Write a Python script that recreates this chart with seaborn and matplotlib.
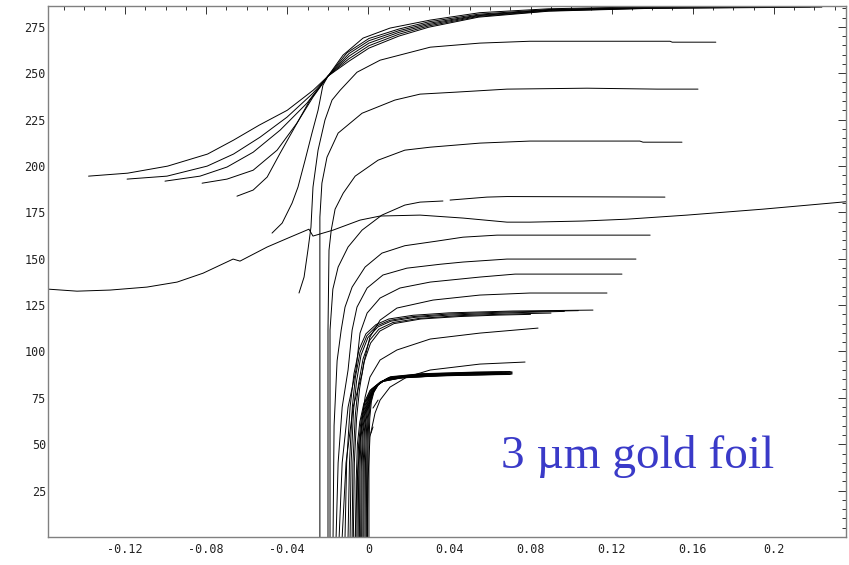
import matplotlib
matplotlib.use("Agg")
import matplotlib.pyplot as plt
import pandas as pd
import seaborn as sns
from matplotlib.ticker import MultipleLocator, FixedLocator, FuncFormatter

# ---- trajectories, (x, y) points in axis units ----
# upper family: start on the left, meet near (-0.02, 248), flatten at ~285
a1 = [(-0.1380, 194.5), (-0.1187, 196.1), (-0.0990, 199.9), (-0.0793, 206.4), (-0.0665, 213.9),
      (-0.0538, 222.0), (-0.0400, 230.0), (-0.0272, 240.8), (-0.0199, 248.4), (-0.0095, 256.5),
      (0.0003, 263.5), (0.0151, 270.0), (0.0299, 274.8), (0.0544, 280.2), (0.0889, 283.4),
      (0.1381, 284.9), (0.2237, 285.6)]
a2 = [(-0.1190, 192.9), (-0.0993, 194.5), (-0.0795, 199.9), (-0.0665, 206.4), (-0.0534, 215.5),
      (-0.0401, 226.3), (-0.0273, 239.2), (-0.0199, 248.4), (-0.0095, 257.8), (0.0003, 264.8),
      (0.0151, 271.0), (0.0299, 275.5), (0.0544, 280.6), (0.0889, 283.6), (0.1381, 285.0),
      (0.2180, 285.7)]
a3 = [(-0.1003, 191.8), (-0.0830, 194.5), (-0.0697, 199.4), (-0.0568, 207.4), (-0.0435, 219.3),
      (-0.0303, 233.8), (-0.0199, 248.4), (-0.0095, 259.2), (0.0003, 266.2), (0.0151, 272.0),
      (0.0299, 276.2), (0.0544, 281.0), (0.0889, 283.9), (0.1381, 285.2), (0.1873, 285.7)]
a4 = [(-0.0820, 190.7), (-0.0697, 192.9), (-0.0568, 197.7), (-0.0450, 208.5), (-0.0352, 223.1),
      (-0.0273, 237.1), (-0.0199, 248.4), (-0.0095, 260.6), (0.0003, 267.5), (0.0151, 272.9),
      (0.0299, 276.9), (0.0544, 281.3), (0.0889, 284.1), (0.1381, 285.4), (0.1600, 285.6)]
a5 = [(-0.0648, 183.7), (-0.0568, 187.0), (-0.0499, 194.0), (-0.0435, 206.9), (-0.0371, 219.3),
      (-0.0288, 235.5), (-0.0199, 248.4), (-0.0105, 261.0), (0.0003, 268.7), (0.0151, 273.8),
      (0.0299, 277.7), (0.0544, 281.8), (0.0889, 284.3), (0.1381, 285.6), (0.2237, 285.9)]
a6 = [(-0.0475, 163.8), (-0.0425, 169.2), (-0.0376, 180.0), (-0.0347, 188.6), (-0.0312, 203.1),
      (-0.0278, 217.7), (-0.0248, 230.0), (-0.0224, 243.5), (-0.0199, 248.4), (-0.0125, 259.7),
      (-0.0026, 268.9), (0.0107, 274.3), (0.0305, 278.6), (0.0550, 282.6), (0.0889, 284.7),
      (0.1381, 285.8), (0.2119, 286.0)]

# plateaus at 267 and 241
b1 = [(-0.0342, 131.5), (-0.0317, 140.1), (-0.0298, 154.6), (-0.0283, 167.0), (-0.0273, 188.6),
      (-0.0248, 208.5), (-0.0214, 224.7), (-0.0179, 235.5), (-0.0139, 240.8), (-0.0056, 250.5),
      (0.0058, 257.0), (0.0305, 264.0), (0.0550, 266.2), (0.0797, 267.2), (0.1488, 267.2),
      (0.1499, 266.7), (0.1714, 266.7)]
b2 = [(-0.0239, 0.0), (-0.0239, 120.0), (-0.0239, 172.4), (-0.0229, 190.7), (-0.0204, 204.7),
      (-0.0149, 217.7), (-0.0031, 228.4), (0.0131, 235.5), (0.0255, 238.7), (0.0437, 239.8),
      (0.0684, 241.4), (0.1079, 241.9), (0.1424, 241.4), (0.1626, 241.4)]

# plateaus at 213 and 183 (the 183 one has a small gap)
c213 = [(-0.0199, 0.0), (-0.0199, 111.5), (-0.0194, 154.6), (-0.0183, 165.4), (-0.0164, 176.7),
        (-0.0124, 185.3), (-0.0065, 194.5), (0.0048, 203.1), (0.0180, 208.5), (0.0305, 210.1),
        (0.0550, 212.3), (0.0797, 213.4), (0.1339, 213.4), (0.1355, 212.8), (0.1547, 212.8)]
d183 = [(-0.0189, 0.0), (-0.0189, 111.5), (-0.0175, 133.6), (-0.0149, 145.5), (-0.0100, 156.3),
        (-0.0031, 165.4), (0.0067, 173.5), (0.0180, 178.9), (0.0255, 180.5), (0.0368, 181.1)]
d183_tail = [(0.0403, 181.6), (0.0585, 183.2), (0.0684, 183.5), (0.1463, 183.2)]

# the long, nearly flat trajectory crossing the whole frame
long_path = [(-0.1580, 133.6), (-0.1437, 132.5), (-0.1273, 133.1), (-0.1092, 134.7), (-0.0943, 137.4),
             (-0.0815, 142.2), (-0.0667, 149.8), (-0.0633, 148.7), (-0.0499, 156.3), (-0.0386, 161.6),
             (-0.0293, 165.9), (-0.0273, 162.2), (-0.0174, 165.4), (-0.0041, 170.8), (0.0058, 173.0),
             (0.0255, 173.5), (0.0467, 171.9), (0.0684, 169.7), (0.0797, 169.7), (0.1059, 170.3),
             (0.1275, 171.3), (0.1572, 173.5), (0.1946, 176.7), (0.2356, 180.7)]

# plateaus at 163, 151, 142, 132
e163 = [(-0.0174, 0.0), (-0.0169, 60.0), (-0.0154, 95.0), (-0.0134, 111.5), (-0.0115, 123.9),
        (-0.0080, 134.7), (-0.0016, 145.5), (0.0067, 153.0), (0.0180, 157.0), (0.0339, 159.5),
        (0.0467, 161.6), (0.0635, 162.7), (0.1390, 162.7)]
e151 = [(-0.0159, 0.0), (-0.0149, 40.0), (-0.0129, 70.0), (-0.0100, 90.0), (-0.0080, 111.5),
        (-0.0056, 123.9), (-0.0006, 134.2), (0.0072, 141.2), (0.0190, 144.9), (0.0354, 147.0),
        (0.0467, 148.2), (0.0684, 149.8), (0.1320, 149.8)]
e142 = [(-0.0144, 0.0), (-0.0129, 40.0), (-0.0100, 70.0), (-0.0061, 90.0), (-0.0041, 109.9),
        (-0.0006, 120.7), (0.0058, 128.8), (0.0156, 134.2), (0.0305, 137.4), (0.0550, 140.1),
        (0.0724, 141.7), (0.1251, 141.7)]
e132 = [(-0.0129, 0.0), (-0.0110, 40.0), (-0.0075, 70.0), (-0.0031, 88.0), (-0.0016, 97.0),
        (0.0008, 107.8), (0.0058, 116.9), (0.0141, 123.4), (0.0319, 127.7), (0.0550, 130.4),
        (0.0797, 131.5), (0.1177, 131.5)]

# bunch near 122
f1 = [(-0.0115, 0.0), (-0.0107, 40.0), (-0.0090, 70.0), (-0.0071, 88.0), (-0.0046, 101.0),
      (-0.0012, 109.5), (0.0038, 114.5), (0.0101, 117.5), (0.0220, 119.5), (0.0397, 120.8),
      (0.0711, 121.8), (0.1108, 122.3)]
f2 = [(-0.0100, 0.0), (-0.0093, 40.0), (-0.0079, 70.0), (-0.0064, 86.0), (-0.0041, 99.5),
      (-0.0007, 108.5), (0.0042, 113.8), (0.0106, 116.8), (0.0220, 118.8), (0.0397, 120.2),
      (0.0692, 121.3), (0.1036, 122.0)]
f3 = [(-0.0090, 0.0), (-0.0085, 40.0), (-0.0073, 68.0), (-0.0058, 84.0), (-0.0036, 98.0),
      (-0.0002, 107.5), (0.0047, 113.2), (0.0111, 116.3), (0.0230, 118.4), (0.0397, 119.6),
      (0.0692, 120.8), (0.0967, 121.6)]
f4 = [(-0.0080, 0.0), (-0.0076, 40.0), (-0.0064, 66.0), (-0.0049, 82.0), (-0.0026, 96.0),
      (0.0006, 106.0), (0.0052, 112.0), (0.0121, 115.6), (0.0249, 117.8), (0.0446, 119.3),
      (0.0692, 120.2), (0.0901, 120.7)]
f5 = [(-0.0074, 0.0), (-0.0069, 40.0), (-0.0058, 64.0), (-0.0043, 80.0), (-0.0022, 94.0),
      (0.0011, 104.5), (0.0057, 111.0), (0.0126, 115.0), (0.0259, 117.5), (0.0446, 118.8),
      (0.0640, 119.6), (0.0800, 120.0)]

# plateaus at 113 and 95
g113 = [(-0.0065, 0.0), (-0.0056, 30.0), (-0.0041, 50.0), (-0.0031, 63.0), (-0.0016, 75.4),
        (0.0008, 86.2), (0.0058, 95.4), (0.0141, 100.8), (0.0305, 106.7), (0.0550, 109.9),
        (0.0837, 112.6)]
g95 = [(-0.0006, 0.0), (-0.0002, 30.0), (0.0008, 53.9), (0.0033, 66.8), (0.0058, 73.8),
       (0.0107, 80.8), (0.0190, 86.2), (0.0305, 90.0), (0.0550, 93.2), (0.0773, 94.3)]

# dense bundle flattening at ~88
h01 = [(-0.0062, 0.0), (-0.0060, 30.0), (-0.0054, 50.0), (-0.0042, 62.0), (-0.0022, 72.0),
       (0.0008, 79.0), (0.0058, 83.5), (0.0150, 85.6), (0.0350, 87.0), (0.0600, 87.6)]
h02 = [(-0.0056, 0.0), (-0.0054, 30.0), (-0.0048, 50.0), (-0.0036, 63.0), (-0.0017, 72.5),
       (0.0014, 79.5), (0.0064, 83.8), (0.0160, 85.8), (0.0350, 86.8), (0.0709, 87.8)]
h03 = [(-0.0050, 0.0), (-0.0048, 32.0), (-0.0042, 52.0), (-0.0030, 64.0), (-0.0011, 73.0),
       (0.0019, 79.8), (0.0069, 84.2), (0.0170, 86.2), (0.0400, 87.6), (0.0650, 88.2)]
h04 = [(-0.0044, 0.0), (-0.0042, 35.0), (-0.0036, 54.0), (-0.0024, 65.0), (-0.0006, 73.5),
       (0.0023, 80.0), (0.0073, 84.0), (0.0180, 86.0), (0.0420, 87.2), (0.0700, 87.6)]
h05 = [(-0.0038, 0.0), (-0.0036, 35.0), (-0.0030, 55.0), (-0.0019, 66.0), (-0.0001, 74.0),
       (0.0028, 80.3), (0.0078, 84.6), (0.0190, 86.5), (0.0450, 87.8), (0.0680, 88.4)]
h06 = [(-0.0033, 0.0), (-0.0031, 38.0), (-0.0025, 57.0), (-0.0014, 67.0), (0.0003, 74.5),
       (0.0031, 80.6), (0.0082, 84.8), (0.0200, 86.6), (0.0460, 87.9), (0.0709, 88.2)]
h07 = [(-0.0027, 0.0), (-0.0025, 40.0), (-0.0019, 58.0), (-0.0009, 68.0), (0.0008, 75.0),
       (0.0035, 81.0), (0.0086, 85.0), (0.0210, 86.9), (0.0470, 88.0), (0.0620, 88.4)]
h08 = [(-0.0022, 0.0), (-0.0020, 40.0), (-0.0014, 60.0), (-0.0004, 69.0), (0.0012, 75.5),
       (0.0039, 81.4), (0.0090, 85.3), (0.0220, 87.0), (0.0480, 88.1), (0.0690, 88.3)]
h09 = [(-0.0016, 0.0), (-0.0014, 42.0), (-0.0008, 61.0), (0.0001, 70.0), (0.0016, 76.5),
       (0.0043, 81.8), (0.0095, 85.6), (0.0230, 87.3), (0.0500, 88.3), (0.0709, 88.6)]
h10 = [(-0.0010, 0.0), (-0.0008, 44.0), (-0.0003, 62.0), (0.0006, 71.0), (0.0020, 77.0),
       (0.0047, 82.2), (0.0100, 85.8), (0.0240, 87.5), (0.0500, 88.5), (0.0660, 88.8)]
h11 = [(-0.0004, 0.0), (-0.0003, 46.0), (0.0002, 63.0), (0.0010, 72.0), (0.0024, 77.6),
       (0.0051, 82.6), (0.0105, 86.1), (0.0250, 87.8), (0.0520, 88.7), (0.0709, 89.0)]
h12 = [(0.0003, 0.0), (0.0003, 48.0), (0.0007, 64.0), (0.0015, 73.0), (0.0028, 78.3),
       (0.0055, 83.0), (0.0110, 86.4), (0.0260, 88.0), (0.0530, 88.9), (0.0700, 89.2)]

# two short stray pieces beside the bundle
stub1 = [(0.0048, 73.8), (0.0023, 69.5)]
stub2 = [(0.0023, 59.3), (0.0013, 56.0)]

curves = [a1, a2, a3, a4, a5, a6, b1, b2, c213, d183, d183_tail, long_path,
          e163, e151, e142, e132, f1, f2, f3, f4, f5, g113, g95,
          h01, h02, h03, h04, h05, h06, h07, h08, h09, h10, h11, h12, stub1, stub2]

x_major = 0.04
y_major_ticks = [25, 50, 75, 100, 125, 150, 175, 200, 225, 250, 275]

label_text = "3 µm gold foil"

# one long table, one trajectory id per curve
rows = []
for i, pts in enumerate(curves):
    for k, (x, y) in enumerate(pts):
        rows.append((i, k, x, y))
df = pd.DataFrame(rows, columns=["traj", "step", "x", "y"])

sns.set_theme(style="white")
plt.rcParams["font.family"] = ["DejaVu Sans Mono"]

fig = plt.figure(figsize=(8.49, 5.65), dpi=100)
ax = fig.add_axes([48 / 849, 28 / 565, 798 / 849, 531 / 565])

sns.lineplot(data=df, x="x", y="y", units="traj", estimator=None, sort=False,
             color="black", linewidth=0.7, legend=False, ax=ax)

ax.set_xlim(-0.158, 0.2356)
ax.set_ylim(0, 286.2)
ax.set_xlabel("")
ax.set_ylabel("")


def fmt_x(v, pos):
    if abs(v) < 1e-9:
        return "0"
    return f"{v:.2f}".rstrip("0").rstrip(".")


ax.xaxis.set_major_locator(MultipleLocator(x_major))
ax.xaxis.set_minor_locator(MultipleLocator(0.01))
ax.xaxis.set_major_formatter(FuncFormatter(fmt_x))
ax.yaxis.set_major_locator(FixedLocator(y_major_ticks))
ax.yaxis.set_minor_locator(MultipleLocator(5))

ax.tick_params(which="both", direction="in", top=True, right=True,
               color="#333333", width=0.7, labelsize=8.5, labelcolor="#222222")
ax.tick_params(which="major", length=6)
ax.tick_params(which="minor", length=3)
ax.tick_params(axis="x", pad=4.5)
ax.tick_params(axis="y", pad=1.5)

for side in ["left", "right", "top", "bottom"]:
    ax.spines[side].set_visible(True)
    ax.spines[side].set_color("#808080")
    ax.spines[side].set_linewidth(1.0)

ax.text(0.0652, 37.2, label_text, family=["Liberation Serif"], fontsize=34,
        color="#3a3ac8", ha="left", va="baseline")

fig.savefig("out.png", dpi=100)
plt.close(fig)
